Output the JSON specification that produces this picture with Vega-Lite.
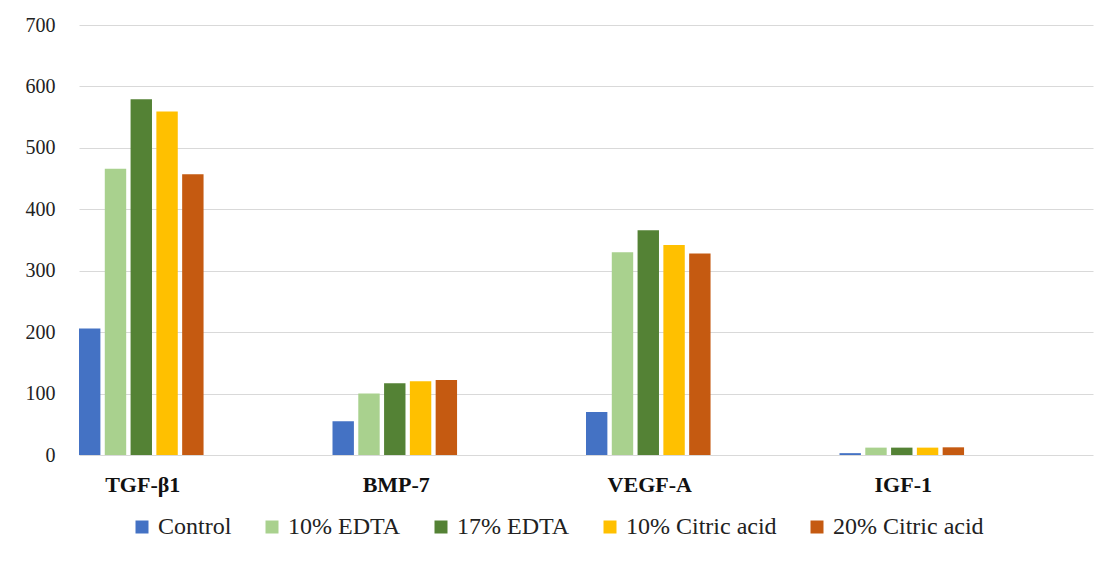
{
  "$schema": "https://vega.github.io/schema/vega-lite/v6.json",
  "width": 1014,
  "height": 430,
  "autosize": {"type": "none"},
  "padding": {"left": 79, "top": 25, "right": 8, "bottom": 110},
  "background": "white",
  "data": {
    "values": [
      {"factor": "TGF-β1", "group": "Control", "value": 206},
      {"factor": "TGF-β1", "group": "10% EDTA", "value": 466},
      {"factor": "TGF-β1", "group": "17% EDTA", "value": 579},
      {"factor": "TGF-β1", "group": "10% Citric acid", "value": 559},
      {"factor": "TGF-β1", "group": "20% Citric acid", "value": 457},
      {"factor": "BMP-7", "group": "Control", "value": 55},
      {"factor": "BMP-7", "group": "10% EDTA", "value": 100},
      {"factor": "BMP-7", "group": "17% EDTA", "value": 117},
      {"factor": "BMP-7", "group": "10% Citric acid", "value": 120},
      {"factor": "BMP-7", "group": "20% Citric acid", "value": 122},
      {"factor": "VEGF-A", "group": "Control", "value": 70},
      {"factor": "VEGF-A", "group": "10% EDTA", "value": 330},
      {"factor": "VEGF-A", "group": "17% EDTA", "value": 366},
      {"factor": "VEGF-A", "group": "10% Citric acid", "value": 342},
      {"factor": "VEGF-A", "group": "20% Citric acid", "value": 328},
      {"factor": "IGF-1", "group": "Control", "value": 3},
      {"factor": "IGF-1", "group": "10% EDTA", "value": 12},
      {"factor": "IGF-1", "group": "17% EDTA", "value": 12},
      {"factor": "IGF-1", "group": "10% Citric acid", "value": 12},
      {"factor": "IGF-1", "group": "20% Citric acid", "value": 12.5}
    ]
  },
  "mark": {"type": "bar"},
  "encoding": {
    "x": {
      "field": "factor",
      "type": "nominal",
      "sort": ["TGF-β1", "BMP-7", "VEGF-A", "IGF-1"],
      "scale": {"paddingInner": 0, "paddingOuter": 0},
      "axis": {
        "title": null,
        "labelAngle": 0,
        "labelOffset": -63,
        "labelFontWeight": "bold",
        "labelFontSize": 22,
        "labelColor": "#111111",
        "labelPadding": 19,
        "ticks": false,
        "domain": false
      }
    },
    "xOffset": {
      "field": "group",
      "type": "nominal",
      "scale": {
        "domain": ["Control", "10% EDTA", "17% EDTA", "10% Citric acid", "20% Citric acid", "d1", "d2", "d3", "d4", "d5"],
        "paddingInner": 0.17,
        "paddingOuter": 0
      }
    },
    "y": {
      "field": "value",
      "type": "quantitative",
      "scale": {"domain": [0, 700]},
      "axis": {
        "title": null,
        "values": [0, 100, 200, 300, 400, 500, 600, 700],
        "labelFontSize": 20,
        "labelColor": "#222222",
        "labelPadding": 24,
        "ticks": false,
        "domain": false,
        "gridColor": "#d9d9d9",
        "gridWidth": 1.2
      }
    },
    "color": {
      "field": "group",
      "type": "nominal",
      "sort": ["Control", "10% EDTA", "17% EDTA", "10% Citric acid", "20% Citric acid"],
      "scale": {
        "domain": ["Control", "10% EDTA", "17% EDTA", "10% Citric acid", "20% Citric acid"],
        "range": ["#4472C4", "#A9D18E", "#548235", "#FFC000", "#C55A11"]
      },
      "legend": {
        "title": null,
        "orient": "none",
        "legendX": 51,
        "legendY": 490,
        "direction": "horizontal",
        "symbolType": "square",
        "symbolSize": 169,
        "symbolOpacity": 1,
        "symbolStrokeWidth": 0,
        "labelFontSize": 24,
        "labelColor": "#222222",
        "labelOffset": 4,
        "columnPadding": 28
      }
    }
  },
  "config": {
    "font": "Liberation Serif",
    "view": {"stroke": null}
  }
}
